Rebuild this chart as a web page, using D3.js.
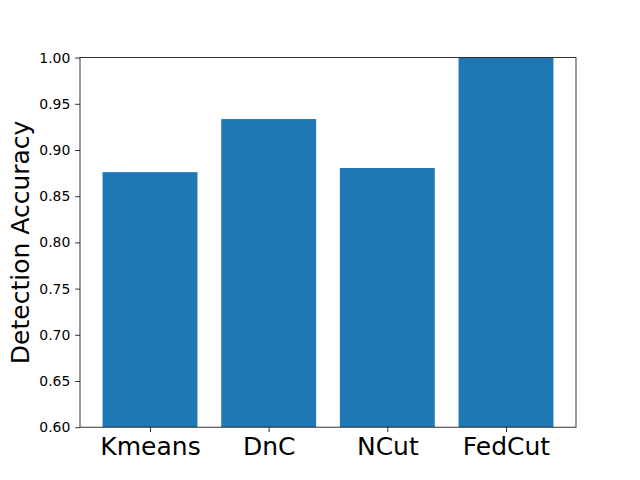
<!DOCTYPE html>
<html><head><meta charset="utf-8">
<script src="https://cdn.jsdelivr.net/npm/d3@7"></script>
<style>body{margin:0;background:#fff}svg{display:block}text{font-family:"DejaVu Sans",sans-serif}</style>
</head><body>
<script>
const categories = ["Kmeans", "DnC", "NCut", "FedCut"];
const values = [0.876, 0.9335, 0.8805, 1.0];
const yTicks = [0.60, 0.65, 0.70, 0.75, 0.80, 0.85, 0.90, 0.95, 1.00];

const W = 640, H = 480;
const L = 80, R = 576, T = 57.6, B = 427.2;
const svg = d3.select("body").append("svg").attr("width", W).attr("height", H);

const x = d3.scaleLinear().domain([-0.59, 3.59]).range([L, R]);
const y = d3.scaleLinear().domain([0.6, 1.0]).range([B, T]);

svg.append("defs").append("clipPath").attr("id", "c")
  .append("rect").attr("x", L).attr("y", T).attr("width", R - L).attr("height", B - T);

svg.append("g").attr("clip-path", "url(#c)").selectAll("rect").data(values).join("rect")
  .attr("x", (d, i) => x(i - 0.4))
  .attr("width", (d, i) => x(i + 0.4) - x(i - 0.4))
  .attr("y", d => y(d))
  .attr("height", d => B - y(d))
  .attr("fill", "#1f77b4");

const tickLen = 4.86, pad = 4.86;
const yAxis = d3.axisLeft(y).tickValues(yTicks).tickFormat(d3.format(".2f")).tickSize(tickLen).tickPadding(pad);
const gy = svg.append("g").attr("transform", `translate(${L},0)`).call(yAxis);
gy.select(".domain").remove();
gy.selectAll("line").attr("stroke", "#000").attr("stroke-width", 0.8);
gy.selectAll("text").attr("font-size", "13.9px").attr("fill", "#000").attr("font-family", "DejaVu Sans");

const xAxis = d3.axisBottom(x).tickValues(d3.range(categories.length)).tickFormat(i => categories[i]).tickSize(tickLen).tickPadding(pad);
const gx = svg.append("g").attr("transform", `translate(0,${B})`).call(xAxis);
gx.select(".domain").remove();
gx.selectAll("line").attr("stroke", "#000").attr("stroke-width", 0.8);
gx.selectAll("text").attr("font-size", "25px").attr("fill", "#000").attr("font-family", "DejaVu Sans");

svg.append("rect").attr("x", L).attr("y", T).attr("width", R - L).attr("height", B - T)
  .attr("fill", "none").attr("stroke", "#000").attr("stroke-width", 0.8);

svg.append("text").attr("transform", `translate(29,${(T + B) / 2}) rotate(-90)`)
  .attr("text-anchor", "middle").attr("font-size", "25px").attr("fill", "#000")
  .text("Detection Accuracy");
</script>
</body></html>
